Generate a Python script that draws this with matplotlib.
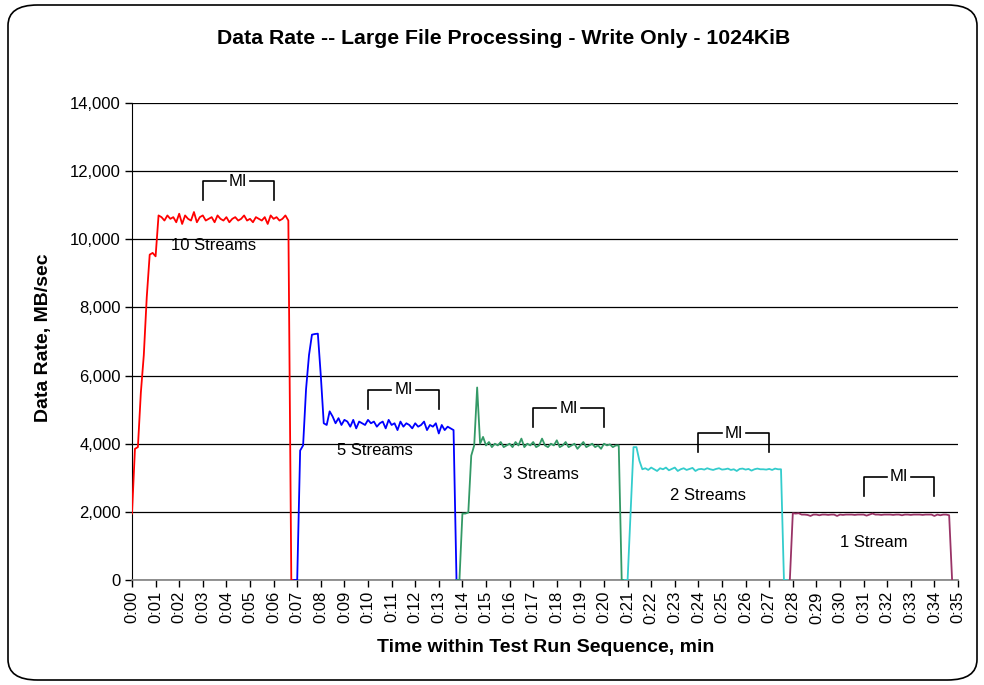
import numpy as np
import matplotlib
matplotlib.use("Agg")
import matplotlib.pyplot as plt
from matplotlib.patches import FancyBboxPatch

plt.rcParams['font.family'] = ['Liberation Sans', 'DejaVu Sans']

STEP = 0.125  # sample interval, minutes

# ---- data (MB/sec), each series sampled every STEP minutes from its start ----
red_start = 0.0
red_vals = [1950, 3850, 3900, 5500, 6600, 8300, 9550, 9600, 9500, 10700,
            10650, 10550, 10700, 10600, 10650, 10500, 10750, 10450, 10700, 10600,
            10550, 10800, 10500, 10650, 10700, 10550, 10600, 10650, 10500, 10700,
            10600, 10550, 10650, 10500, 10600, 10650, 10550, 10600, 10700, 10550,
            10600, 10500, 10650, 10600, 10550, 10650, 10450, 10700, 10600, 10650,
            10550, 10600, 10700, 10550, 0, 0]

blue_start = 6.875
blue_vals = [0, 0, 3800, 3950, 5600, 6600, 7200, 7220, 7230, 6000,
             4600, 4550, 4950, 4800, 4600, 4750, 4550, 4700, 4650, 4500,
             4700, 4450, 4650, 4600, 4550, 4700, 4600, 4650, 4500, 4600,
             4650, 4450, 4700, 4550, 4600, 4400, 4650, 4500, 4600, 4550,
             4450, 4600, 4500, 4550, 4650, 4400, 4550, 4500, 4600, 4300,
             4550, 4400, 4500, 4450, 4400, 0, 0]

green_start = 13.75
green_vals = [0, 0, 1950, 1950, 1980, 3650, 3950, 5650, 4000, 4200,
              3950, 4050, 3900, 4000, 3950, 4050, 3900, 3950, 4000, 3900,
              4050, 3950, 4150, 3900, 4000, 3950, 4050, 3900, 3950, 4150,
              3950, 3900, 4000, 3950, 4100, 3900, 3950, 4050, 3900, 3950,
              4000, 3850, 3950, 4050, 3900, 3950, 4000, 3900, 3950, 3850,
              4000, 3950, 3980, 3900, 3950, 3950, 0, 0]

cyan_start = 20.875
cyan_vals = [0, 0, 1950, 3900, 3900, 3500, 3250, 3280, 3230, 3300,
             3250, 3200, 3280, 3250, 3300, 3220, 3260, 3300, 3200, 3250,
             3280, 3230, 3260, 3290, 3200, 3250, 3260, 3240, 3280, 3250,
             3230, 3260, 3280, 3240, 3250, 3270, 3230, 3250, 3200, 3260,
             3270, 3240, 3260, 3210, 3250, 3270, 3250, 3250, 3240, 3260,
             3230, 3270, 3250, 3250, 0, 0]

purple_start = 27.875
purple_vals = [0, 1960, 1950, 1960, 1920, 1920, 1910, 1880, 1920, 1920,
               1900, 1920, 1920, 1910, 1920, 1920, 1880, 1920, 1910, 1920,
               1920, 1920, 1910, 1920, 1920, 1920, 1890, 1920, 1950, 1920,
               1920, 1910, 1920, 1920, 1920, 1910, 1920, 1920, 1900, 1920,
               1920, 1910, 1920, 1920, 1920, 1910, 1920, 1920, 1920, 1880,
               1920, 1900, 1920, 1920, 1900, 0]

series = [
    (red_start, red_vals, '#FF0000'),
    (blue_start, blue_vals, '#0000FF'),
    (green_start, green_vals, '#339966'),
    (cyan_start, cyan_vals, '#33CCCC'),
    (purple_start, purple_vals, '#993366'),
]

# measurement-interval brackets
mi_start = [3, 10, 17, 24, 31]
mi_len = 3
mi_top = [11700, 5580, 5040, 4310, 3030]

stream_labels = ['10 Streams', '5 Streams', '3 Streams', '2 Streams', '1 Stream']
label_x = [3.47, 10.3, 17.33, 24.4, 31.44]
label_y = [9810, 3790, 3110, 2470, 1090]

x_ticks = list(range(0, 36))
x_ticklabels = ['0:%02d' % m for m in x_ticks]
y_ticks = list(range(0, 14001, 2000))

# ---- figure ----
fig = plt.figure(figsize=(9.84, 6.85), dpi=100)
fig.patch.set_facecolor('white')
border = FancyBboxPatch((8 / 984, 5 / 685), 969 / 984, 675 / 685,
                        boxstyle='round,pad=0,rounding_size=0.03',
                        transform=fig.transFigure, facecolor='none',
                        edgecolor='black', linewidth=1.2, zorder=10)
fig.patches.append(border)

ax = fig.add_axes([132 / 984, 1 - 580 / 685, (958 - 132) / 984, (580 - 103) / 685])
ax.set_facecolor('none')

for start, vals, color in series:
    t = start + STEP * np.arange(len(vals))
    ax.plot(t, vals, color=color, linewidth=1.3, zorder=3)

for s, top in zip(mi_start, mi_top):
    leg = 560
    mid = s + mi_len / 2
    gap = 0.52
    ax.plot([s, s, mid - gap], [top - leg, top, top], color='black', lw=1.2, zorder=4)
    ax.plot([mid + gap, s + mi_len, s + mi_len], [top, top, top - leg], color='black', lw=1.2, zorder=4)
    ax.text(mid, top, 'MI', ha='center', va='center', fontsize=12, zorder=5)

for lx, ly, txt in zip(label_x, label_y, stream_labels):
    ax.text(lx, ly, txt, ha='center', va='center', fontsize=12, zorder=5)

ax.set_xlim(0, 35)
ax.set_ylim(0, 14000)
ax.set_xticks(x_ticks)
ax.set_xticklabels(x_ticklabels, rotation=90, fontsize=12)
ax.set_yticks(y_ticks)
ax.set_yticklabels(['{:,}'.format(v) for v in y_ticks], fontsize=12)
ax.tick_params(direction='out', length=5, width=1, colors='black', pad=3)
ax.yaxis.grid(True, color='black', linewidth=0.9)
ax.set_axisbelow(True)
for side in ['top', 'right']:
    ax.spines[side].set_visible(False)
ax.spines['left'].set_color('black')
ax.spines['bottom'].set_color('#808080')
ax.spines['bottom'].set_linewidth(1.2)

fig.text(504 / 984, 1 - 38 / 685, 'Data Rate -- Large File Processing - Write Only - 1024KiB',
         ha='center', va='center', fontsize=15.3, fontweight='bold')
fig.text(546 / 984, 1 - 648 / 685, 'Time within Test Run Sequence, min',
         ha='center', va='center', fontsize=14, fontweight='bold')
fig.text(44 / 984, 1 - 338 / 685, 'Data Rate, MB/sec', ha='center', va='center',
         rotation=90, fontsize=14, fontweight='bold')

fig.savefig('out.png', dpi=100, facecolor='white')
